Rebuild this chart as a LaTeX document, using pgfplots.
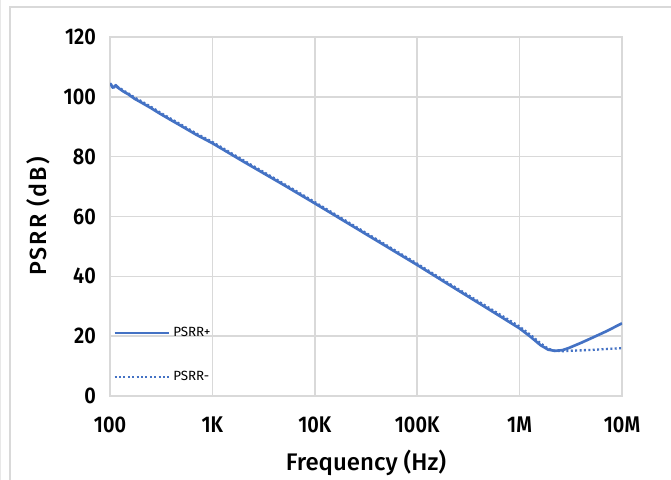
\documentclass[border=0pt]{standalone}
\usepackage{pgfplots}
\pgfplotsset{compat=1.18}
\usepackage{fontspec}
\setmainfont{Fira Sans}
\newfontfamily\tickfont{Fira Sans SemiBold}
\newfontfamily\labfont{Fira Sans Medium}
\definecolor{psrr}{HTML}{4472C4}
\definecolor{grd}{HTML}{D9D9D9}
\pgfplotstableread{
f v
100 104.5
103 104.0
106 103.1
110 103.4
114 103.9
118 103.2
125 102.6
135 101.8
150 100.9
175 99.3
200 98.2
250 96.3
300 94.6
400 92.1
500 90.2
700 87.3
1000 84.5
2000 78.4
5000 70.5
10000 64.4
20000 58.2
50000 50.0
100000 43.8
200000 37.4
500000 29.0
1000000 22.6
1300000 19.6
1600000 17.0
1900000 15.5
2200000 15.1
2600000 15.3
3000000 16.0
4000000 17.8
5000000 19.3
7000000 21.6
10000000 24.3
}\psrrplus
\pgfplotstableread{
f v
100 104.3
103 103.8
106 103.3
110 103.2
114 103.6
118 103.4
125 102.9
135 102.1
150 101.2
175 99.7
200 98.6
250 96.7
300 95.0
400 92.5
500 90.6
700 87.7
1000 84.9
2000 78.8
5000 70.9
10000 64.8
20000 58.6
50000 50.4
100000 44.2
200000 37.8
500000 29.5
1000000 23.2
1300000 20.2
1600000 17.6
1900000 15.8
2200000 15.1
2600000 15.0
3000000 15.1
5000000 15.4
7000000 15.7
10000000 16.0
}\psrrminus
\begin{document}
\begin{tikzpicture}[x=0.75pt,y=0.75pt]
\useasboundingbox (0,0) rectangle (671,479);
\draw[grd,line width=1.1pt] (10,-5) -- (10,472) -- (690,472);
\draw[grd!60,line width=0.8pt] (0.5,-5) -- (0.5,484);
\begin{axis}[
  at={(82.5pt,62.25pt)}, anchor=south west,
  scale only axis, width=384pt, height=269.25pt,
  xmode=log, xmin=100, xmax=1e7, ymin=0, ymax=120,
  xtick={100,1000,10000,100000,1000000,10000000},
  xticklabels={100,1K,10K,100K,1M,10M},
  ytick={0,20,40,60,80,100,120},
  yticklabels={0,20,40,60,80,100,120},
  minor xtick={},
  log basis x=10,
  grid=major,
  major grid style={grd,line width=1.1pt},
  axis line style={grd,line width=1.1pt},
  major tick length=0pt,
  /pgf/number format/assume math mode=true,
  tick label style={font=\tickfont\fontsize{17}{20}\selectfont, text=black, xscale=0.88},
  xticklabel style={yshift=-12pt},
  yticklabel style={xshift=-8.5pt},
  xlabel={Frequency (Hz)},
  ylabel={PSRR (dB)},
  label style={font=\labfont\fontsize{18}{21}\selectfont, text=black},
  xlabel style={yshift=-6pt},
  ylabel style={yshift=3.5pt, font=\labfont\fontsize{17.5}{21}\selectfont\addfontfeature{LetterSpace=9}},
  legend style={draw=none, fill=none, at={(0.0,0.02)}, anchor=south west,
    xshift=2.25pt, yshift=2.5pt,
    font=\fontsize{10}{12}\selectfont, row sep=20.5pt, inner sep=0pt},
  legend cell align=left,
  legend image code/.code={\draw[#1] (0pt,0pt) -- (41pt,0pt);},
]
\addplot[psrr, line width=2pt, line join=round] table[x=f,y=v] {\psrrplus};
\addlegendentry{PSRR+}
\addplot[psrr, line width=1.8pt, dash pattern=on 1.5pt off 1.8pt] table[x=f,y=v] {\psrrminus};
\addlegendentry{PSRR-}
\end{axis}
\end{tikzpicture}
\end{document}
